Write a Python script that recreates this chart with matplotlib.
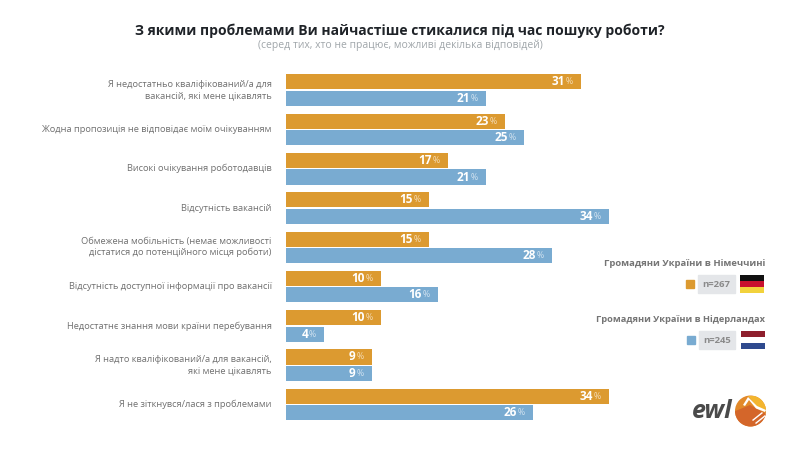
import matplotlib
matplotlib.use("Agg")
import matplotlib.pyplot as plt
from matplotlib.patches import Rectangle, Circle, Polygon

plt.rcParams["font.family"] = ["Open Sans", "DejaVu Sans"]

categories = [
    "Я недостатньо кваліфікований/а для\nвакансій, які мене цікавлять",
    "Жодна пропозиція не відповідає моїм очікуванням",
    "Високі очікування роботодавців",
    "Відсутність вакансій",
    "Обмежена мобільність (немає можливості\nдістатися до потенційного місця роботи)",
    "Відсутність доступної інформації про вакансії",
    "Недостатнє знання мови країни перебування",
    "Я надто кваліфікований/а для вакансій,\nякі мене цікавлять",
    "Я не зіткнувся/лася з проблемами",
]
germany = [31, 23, 17, 15, 15, 10, 10, 9, 34]
netherlands = [21, 25, 21, 34, 28, 16, 4, 9, 26]

ORANGE = "#DC9A30"
BLUE = "#79ABD1"
GREY = "#707070"

fig = plt.figure(figsize=(8, 4.5), dpi=100)

ax = fig.add_axes([286 / 800, 1 - 424.2 / 450, 514 / 800, 353.7 / 450])
ax.set_xlim(0, 514 / 9.5)
ax.set_ylim(8.5, -0.5)
ax.axis("off")

for i in range(len(categories)):
    ax.barh(i - 0.21, germany[i], height=0.385, color=ORANGE)
    ax.barh(i + 0.21, netherlands[i], height=0.385, color=BLUE)
    for offset, value in [(-0.21, germany[i]), (0.21, netherlands[i])]:
        ax.annotate(
            f"{value}",
            (value, i + offset),
            xytext=(-11.5, 0),
            textcoords="offset points",
            ha="right",
            va="center",
            color="white",
            fontsize=8.5,
            fontweight="bold",
        )
        ax.annotate(
            "%",
            (value, i + offset),
            xytext=(-5.6, 0),
            textcoords="offset points",
            ha="right",
            va="center",
            color="white",
            alpha=0.65,
            fontsize=6.3,
        )
    ax.annotate(
        categories[i],
        (0, i),
        xytext=(-10.2, 0),
        textcoords="offset points",
        ha="right",
        va="center",
        multialignment="right",
        color=GREY,
        fontsize=6.65,
        linespacing=1.25,
    )

# overlay in pixel coordinates for title, legend and logo
ov = fig.add_axes([0, 0, 1, 1], zorder=5)
ov.set_xlim(0, 800)
ov.set_ylim(450, 0)
ov.axis("off")

ov.text(400, 31, "З якими проблемами Ви найчастіше стикалися під час пошуку роботи?",
        ha="center", va="center", fontsize=10.0, fontweight="bold", color="#1F2328")
ov.text(400, 45.5, "(серед тих, хто не працює, можливі декілька відповідей)",
        ha="center", va="center", fontsize=7.5, color="#A0A6AA")

ov.text(765, 263, "Громадяни України в Німеччині", ha="right", va="center",
        fontsize=6.8, fontweight="bold", color="#757575")
ov.text(765, 319.5, "Громадяни України в Нідерландах", ha="right", va="center",
        fontsize=6.7, fontweight="bold", color="#757575")

ov.add_patch(Rectangle((686, 280), 8, 8, color=ORANGE))
ov.add_patch(Rectangle((698, 275), 37, 18, color="#E4E6E9"))
ov.text(716.5, 284.5, "n=267", ha="center", va="center", fontsize=6.8, fontweight="bold", color="#8A8A8A")
for k, c in enumerate(["#111111", "#C8102E", "#F2D23C"]):
    ov.add_patch(Rectangle((740, 275 + k * 6), 24, 6, color=c, lw=0))

ov.add_patch(Rectangle((687, 336), 8, 8, color=BLUE))
ov.add_patch(Rectangle((699, 331), 36, 18, color="#E4E6E9"))
ov.text(717, 340.5, "n=245", ha="center", va="center", fontsize=6.8, fontweight="bold", color="#8A8A8A")
for k, c in enumerate(["#8E1F2D", "#FFFFFF", "#2F4A8E"]):
    ov.add_patch(Rectangle((740.5, 331 + k * 6), 24, 6, color=c, lw=0))

# logo
ov.text(692, 412, "ewl", ha="left", va="center", fontsize=18, fontweight="bold",
        fontstyle="italic", color="#4A4A4A")
disc = Circle((750.5, 411), 15.5, color="#E2892A", lw=0)
ov.add_patch(disc)
parts = [
    ([(748, 396), (768, 396), (768, 412), (757, 407)], "#F3B52F"),
    ([(733, 412), (750, 405), (768, 415), (760, 428), (733, 428)], "#D4662A"),
    ([(743, 405), (748, 397), (757, 406), (766, 410), (765, 412), (756, 408.5), (749, 400), (745, 406)], "white"),
    ([(752, 420), (762, 412), (763, 413), (753, 421)], "white"),
    ([(755, 423), (765, 415), (766, 416), (756, 424)], "white"),
]
for pts, c in parts:
    p = Polygon(pts, color=c, lw=0)
    ov.add_patch(p)
    p.set_clip_path(disc)

fig.savefig("out.png", dpi=100, facecolor="white")
